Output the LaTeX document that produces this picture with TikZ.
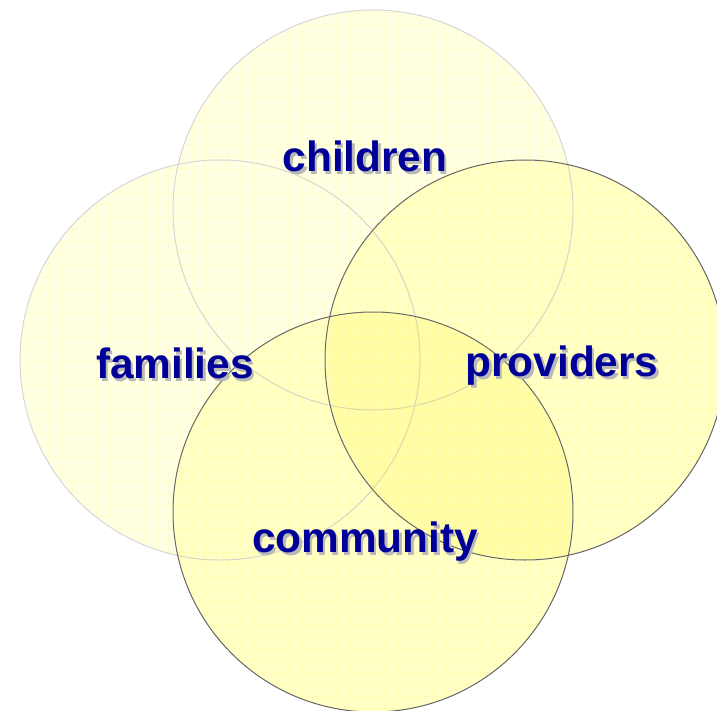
\documentclass[tikz,border=0pt]{standalone}
\usepackage{fontspec}
\setmainfont{Liberation Sans}
\usetikzlibrary{shapes}
\definecolor{wordblue}{HTML}{000099}
\definecolor{palefill}{HTML}{FFFFE4}
\definecolor{brightfill}{HTML}{FFFFC6}
\newcommand{\vennword}[1]{\rlap{\kern2.5bp\raisebox{-2.5bp}{\textcolor{black!28}{#1}}}#1}

\begin{document}
\begin{tikzpicture}[x=1bp,y=-1bp,
  pale/.style={circle,minimum size=400bp,inner sep=0pt,draw=black!16,fill=palefill},
  bright/.style={circle,minimum size=400bp,inner sep=0pt,draw=black!60,fill=brightfill},
  word/.style={font=\fontsize{42.5}{42.5}\selectfont\bfseries,text=wordblue}]
  \useasboundingbox (0,0) rectangle (717,711);

  \begin{scope}[blend group=darken]
    \node[pale]   (ch) at (373,210) {};
    \node[pale]   (fa) at (220,360) {};
    \node[bright] (pr) at (525,360) {};
    \node[bright] (co) at (373,512) {};
  \end{scope}

  % deeper yellow where providers and community meet
  \begin{scope}
    \clip (pr.center) circle (199);
    \fill[yellow,opacity=0.14] (co.center) circle (199);
  \end{scope}

  % faint grid inside the circles
  \begin{scope}
    \clip (ch.center) circle (199) (fa.center) circle (199)
          (pr.center) circle (199) (co.center) circle (199);
    \draw[yellow,opacity=0.09,line width=0.6bp,step=12bp] (0,0) grid (717,711);
  \end{scope}

  \node[word] (chw) at (365,158) {\vennword{children}};
  \node[word] (faw) at (175,365) {\vennword{families}};
  \node[word] (prw) at (562,367) {\vennword{providers}};
  \node[word] (cow) at (365,543) {\vennword{community}};
\end{tikzpicture}
\end{document}
